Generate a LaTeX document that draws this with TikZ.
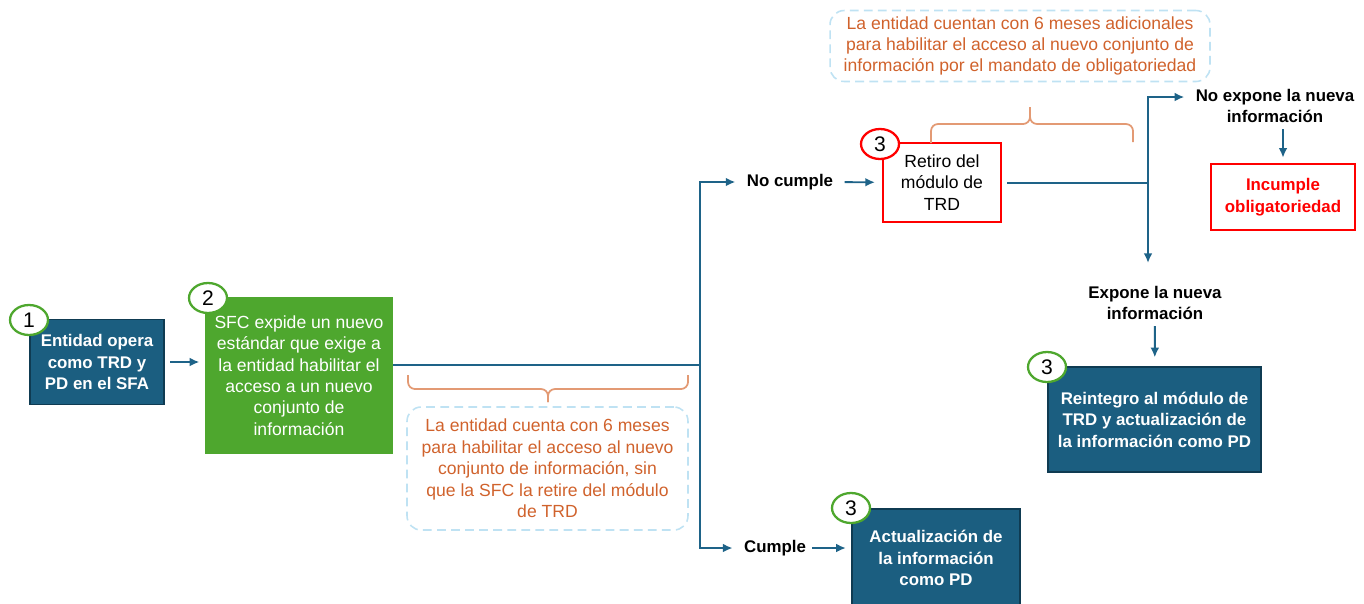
\documentclass[tikz,border=0pt]{standalone}
\usepackage{fontspec}
\setmainfont{Liberation Sans}
\usetikzlibrary{arrows.meta,shapes.geometric}

\definecolor{boxblue}{HTML}{1B5E80}
\definecolor{boxedge}{HTML}{0F3B52}
\definecolor{boxgreen}{HTML}{4EA72E}
\definecolor{linkblue}{HTML}{1E6388}
\definecolor{noteorange}{HTML}{D0622C}
\definecolor{bracetan}{HTML}{E39A74}
\definecolor{dashblue}{HTML}{BFE2F3}
\definecolor{alertred}{HTML}{FF0000}

\begin{document}
\begin{tikzpicture}[x=0.02cm, y=-0.02cm,
  every node/.style={font=\fontsize{10}{12.2}\selectfont, align=center},
  bluebox/.style={draw=boxedge, line width=1pt, fill=boxblue, text=white,
    font=\fontsize{9.6}{12.2}\selectfont\bfseries},
  greenbox/.style={fill=boxgreen, text=white},
  redbox/.style={draw=alertred, line width=1.2pt, fill=white},
  stepnum/.style={ellipse, draw=boxgreen, line width=1.3pt, fill=white,
    minimum width=0.76cm, minimum height=0.6cm, inner sep=0pt,
    font=\fontsize{12}{12}\selectfont},
  notebox/.style={draw=dashblue, dash pattern=on 5pt off 3pt, line width=0.9pt,
    rounded corners=8pt, text=noteorange},
  choice/.style={font=\fontsize{9.6}{12.2}\selectfont\bfseries},
  flowline/.style={draw=linkblue, line width=1.1pt},
  flowarrow/.style={flowline, -{Latex[length=5.5pt,width=5pt]}, shorten >=3pt},
  curly/.style={draw=bracetan, line width=1pt, rounded corners=4pt}
]
  \useasboundingbox (0,0) rectangle (1364,603);

  % step 1 and 2
  \node[bluebox, minimum width=2.68cm, minimum height=1.7cm] (entidad) at (97,362)
    {Entidad opera\\como TRD y\\PD en el SFA};
  \node[stepnum] (n1) at (29,320) {1};
  \node[greenbox, minimum width=3.76cm, minimum height=3.14cm] (sfc) at (299,375.5)
    {SFC expide un nuevo\\estándar que exige a\\la entidad habilitar el\\acceso a un nuevo\\conjunto de\\información};
  \node[stepnum] (n2) at (208,298) {2};
  \draw[flowarrow, shorten <=3pt] (entidad) -- (sfc.west |- entidad);

  % first split
  \coordinate (split) at (700,365);
  \node[choice] (nocumple) at (790,182) {No cumple};
  \node[choice] (cumple) at (775,548) {Cumple};
  \draw[flowline] (sfc.east |- split) -- (split);
  \draw[flowarrow] (split) |- (nocumple.west);
  \draw[flowarrow] (split) |- (cumple.west);

  \node[notebox, minimum width=5.62cm, minimum height=2.46cm] (note6) at (547.5,468.5)
    {La entidad cuenta con 6 meses\\para habilitar el acceso al nuevo\\conjunto de información, sin\\que la SFC la retire del módulo\\de TRD};
  \draw[curly] (408,375) |- (548,389) -- (548,402);
  \draw[curly] (688,375) |- (548,389) -- (548,402);

  % no cumple
  \node[redbox, minimum width=2.36cm, minimum height=1.58cm] (retiro) at (942,182.5)
    {Retiro del\\módulo de\\TRD};
  \node[stepnum, draw=alertred] (n3a) at (880,144) {3};
  \draw[flowarrow, shorten <=3pt, shorten >=4pt] (nocumple) -- (retiro);

  \node[notebox, minimum width=7.6cm, minimum height=1.36cm] (note12) at (1020,46)
    {La entidad cuentan con 6 meses adicionales\\para habilitar el acceso al nuevo conjunto de\\información por el mandato de obligatoriedad};
  \draw[curly] (931,143) |- (1030,124) -- (1030,107);
  \draw[curly] (1133,142) |- (1030,124) -- (1030,107);

  \coordinate (split2) at (1148,183);
  \coordinate (down2) at (1148,263);
  \draw[flowline, shorten <=3pt] (retiro.east |- split2) -- (split2);

  \node[choice] (noexpone) at (1275,106) {No expone la nueva\\información};
  \node[redbox, text=alertred, font=\fontsize{9.6}{12.2}\selectfont\bfseries,
    minimum width=2.88cm, minimum height=1.32cm] (incumple) at (1283,197)
    {Incumple\\obligatoriedad};
  \draw[flowarrow] (split2) |- ([yshift=0.18cm]noexpone.west);
  \draw[flowarrow] (noexpone.south -| incumple) -- (incumple);
  \draw[flowarrow, shorten >=0pt] (split2) -- (down2);

  \node[choice] (expone) at (1155,303) {Expone la nueva\\información};
  \node[bluebox, minimum width=4.26cm, minimum height=2.1cm] (reintegro) at (1154.5,419.5)
    {Reintegro al módulo de\\TRD y actualización de\\la información como PD};
  \node[stepnum] (n3b) at (1047,367) {3};
  \draw[flowarrow, shorten >=5pt] (expone) -- (reintegro);

  % cumple
  \node[bluebox, minimum width=3.36cm, minimum height=1.96cm] (actual) at (936,558)
    {Actualización de\\la información\\como PD};
  \node[stepnum] (n3c) at (851,508) {3};
  \draw[flowarrow] (cumple) -- (actual.west |- cumple);
\end{tikzpicture}
\end{document}
